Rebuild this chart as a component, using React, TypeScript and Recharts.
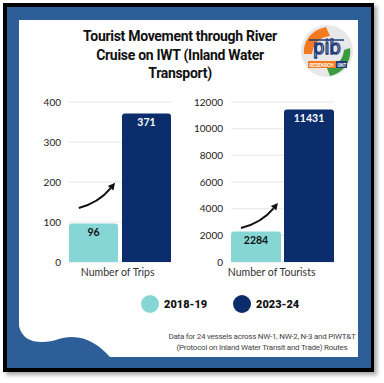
import React from 'react';
import { BarChart, Bar, XAxis, YAxis, CartesianGrid, LabelList } from 'recharts';

const PERIODS = ['2018-19', '2023-24'];
const PERIOD_COLORS = ['#86d6d6', '#0b2d6b'];
const METRICS = ['Number of Trips', 'Number of Tourists'];
const TRIPS = [96, 371];
const TOURISTS = [2284, 11431];
const TRIP_TICKS = [0, 100, 200, 300, 400];
const TOURIST_TICKS = [0, 2000, 4000, 6000, 8000, 10000, 12000];
// where the growth arrow starts / ends, in each panel's own units
const TRIP_ARROW = [135, 198];
const TOURIST_ARROW = [2550, 4430];

const TITLE = ['Tourist Movement through River', 'Cruise on IWT (Inland Water', 'Transport)'];
const NOTE = ['Data for 24 vessels across NW-1, NW-2, N-3 and PIWT&T', '(Protocol on Inland Water Transit and Trade) Routes'];

const FONT = 'Lato, "Noto Sans", sans-serif';

function Arrow({ sx, sy, ex, ey }: { sx: number; sy: number; ex: number; ey: number }) {
  const dx = ex - sx;
  const dy = sy - ey;
  const cx = sx + dx * 0.55;
  const cy = sy - dy * 0.2;
  const ang = Math.atan2(ey - cy, ex - cx);
  const len = 7;
  const bx = ex - Math.cos(ang) * len;
  const by = ey - Math.sin(ang) * len;
  const px = Math.cos(ang + Math.PI / 2) * 3.5;
  const py = Math.sin(ang + Math.PI / 2) * 3.5;
  return (
    <g>
      <path d={`M${sx},${sy} Q${cx},${cy} ${bx},${by}`} fill="none" stroke="#111" strokeWidth={2} />
      <polygon points={`${ex},${ey} ${bx + px},${by + py} ${bx - px},${by - py}`} fill="#111" />
    </g>
  );
}

function ValueLabel(props: any) {
  const x = Number(props.x);
  const y = Number(props.y);
  const width = Number(props.width);
  const height = Number(props.height);
  const value = Number(props.value);
  const { color, arrow } = props;
  let arrowEl = null;
  if (arrow) {
    const base = y + height;
    const per = height / value;
    arrowEl = (
      <Arrow
        sx={x + width * 0.2}
        sy={base - arrow[0] * per}
        ex={x + width * 0.94}
        ey={base - arrow[1] * per}
      />
    );
  }
  return (
    <g>
      <text x={x + width / 2} y={y + 8} textAnchor="middle" dominantBaseline="central"
        fill={color} fontFamily={FONT} fontWeight={700} fontSize={10.5}>
        {value}
      </text>
      {arrowEl}
    </g>
  );
}

function CategoryTick({ x, y, payload }: any) {
  return (
    <text x={x} y={Number(y) + 2} textAnchor="middle" dominantBaseline="central"
      fill="#333" fontSize={10.5} fontFamily={FONT}>
      {payload.value}
    </text>
  );
}

function Panel({ metric, values, ticks, arrow, left, width, yWidth, gap }: any) {
  const rows = [{ name: metric, first: values[0], second: values[1] }];
  return (
    <div style={{ position: 'absolute', left, top: 92 }}>
      <BarChart width={width} height={194} data={rows}
        margin={{ top: 10, right: 0, bottom: 0, left: 0 }} barCategoryGap={0} barGap={gap}>
        <CartesianGrid vertical={false} stroke="#e6e6e6" />
        <XAxis dataKey="name" axisLine={false} tickLine={false} height={24} tick={<CategoryTick />} />
        <YAxis domain={[0, ticks[ticks.length - 1]]} ticks={ticks} axisLine={false} tickLine={false}
          width={yWidth} tick={{ fill: '#222', fontSize: 10, fontFamily: FONT }} />
        <Bar dataKey="first" fill={PERIOD_COLORS[0]} radius={[3, 3, 0, 0]} isAnimationActive={false}>
          <LabelList dataKey="first" content={(p: any) => <ValueLabel {...p} color="#111" arrow={arrow} />} />
        </Bar>
        <Bar dataKey="second" fill={PERIOD_COLORS[1]} radius={[3, 3, 0, 0]} isAnimationActive={false}>
          <LabelList dataKey="second" content={(p: any) => <ValueLabel {...p} color="#fff" />} />
        </Bar>
      </BarChart>
    </div>
  );
}

function Logo() {
  return (
    <svg width={54} height={54} style={{ position: 'absolute', left: 300, top: 24 }} viewBox="0 0 54 54">
      <circle cx={27} cy={27} r={26} fill="#e8e8e8" />
      <path d="M4,30 C3,16 12,6 26,3 L30,12 C20,13 13,20 12,30 Z" fill="#f37a21" />
      <path d="M50,24 C52,38 43,49 30,52 L27,44 C37,42 43,36 44,26 Z" fill="#3b9b3e" />
      <line x1={9} y1={16} x2={44} y2={16} stroke="#1d3c78" strokeWidth={1.6} />
      <text x={27} y={30} textAnchor="middle" fontFamily="Roboto, sans-serif" fontSize={20}
        fontWeight={400} fill="#fff" stroke="#1d3c78" strokeWidth={1.3}>pib</text>
      <rect x={8} y={37} width={28} height={7} fill="#f37a21" />
      <rect x={36} y={37} width={11} height={7} fill="#1d3c78" />
      <text x={9.5} y={42.5} fontSize={5} fill="#fff" fontFamily="Roboto, sans-serif" fontWeight={700}
        textLength={24} lengthAdjust="spacingAndGlyphs">RESEARCH</text>
      <text x={37.5} y={42.5} fontSize={5} fill="#fff" fontFamily="Roboto, sans-serif" fontWeight={700}
        textLength={8.5} lengthAdjust="spacingAndGlyphs">UNIT</text>
    </svg>
  );
}

export default function App() {
  return (
    <div style={{ position: 'fixed', left: 0, top: 0, width: 384, height: 383, background: '#fff', overflow: 'hidden' }}>
      <div style={{ position: 'absolute', left: 3, top: 3, width: 371, height: 369, background: '#000', boxShadow: '3px 3px 4px rgba(0,0,0,0.35)' }} />
      <div style={{ position: 'absolute', left: 7, top: 7, width: 364, height: 361, background: '#2e5e98' }} />
      <div style={{ position: 'absolute', left: 19, top: 20, width: 339, height: 337, background: '#fff' }} />
      <svg width={384} height={383} style={{ position: 'absolute', left: 0, top: 0 }}>
        <path d="M19,326 C22,338 30,342 42,342 C55,342 60,337 72,337 C88,337 100,346 110,357 L19,357 Z" fill="#2e5e98" />
      </svg>

      <div style={{ position: 'absolute', left: 40, top: 27, width: 280, textAlign: 'center',
        fontFamily: 'Roboto, sans-serif', fontWeight: 700, fontSize: 14, lineHeight: '18.5px', color: '#111', letterSpacing: -0.3 }}>
        {TITLE.map(t => <div key={t}>{t}</div>)}
      </div>
      <Logo />

      <Panel metric={METRICS[0]} values={TRIPS} ticks={TRIP_TICKS} arrow={TRIP_ARROW}
        left={20} width={151} yWidth={49} gap={4} />
      <Panel metric={METRICS[1]} values={TOURISTS} ticks={TOURIST_TICKS} arrow={TOURIST_ARROW}
        left={191} width={143} yWidth={40} gap={3} />

      {PERIODS.map((p, i) => (
        <div key={p} style={{ position: 'absolute', left: [141, 233][i], top: 295, display: 'flex', alignItems: 'center' }}>
          <div style={{ width: 18, height: 18, borderRadius: 9, background: PERIOD_COLORS[i] }} />
          <span style={{ marginLeft: 5, fontFamily: 'Roboto, sans-serif', fontWeight: 900, fontSize: 11, color: '#111' }}>{p}</span>
        </div>
      ))}

      <div style={{ position: 'absolute', left: 150, top: 331, width: 224, textAlign: 'center',
        fontFamily: 'Roboto, sans-serif', fontSize: 8, lineHeight: '11px', color: '#444', letterSpacing: -0.25 }}>
        {NOTE.map(t => <div key={t}>{t}</div>)}
      </div>
    </div>
  );
}
